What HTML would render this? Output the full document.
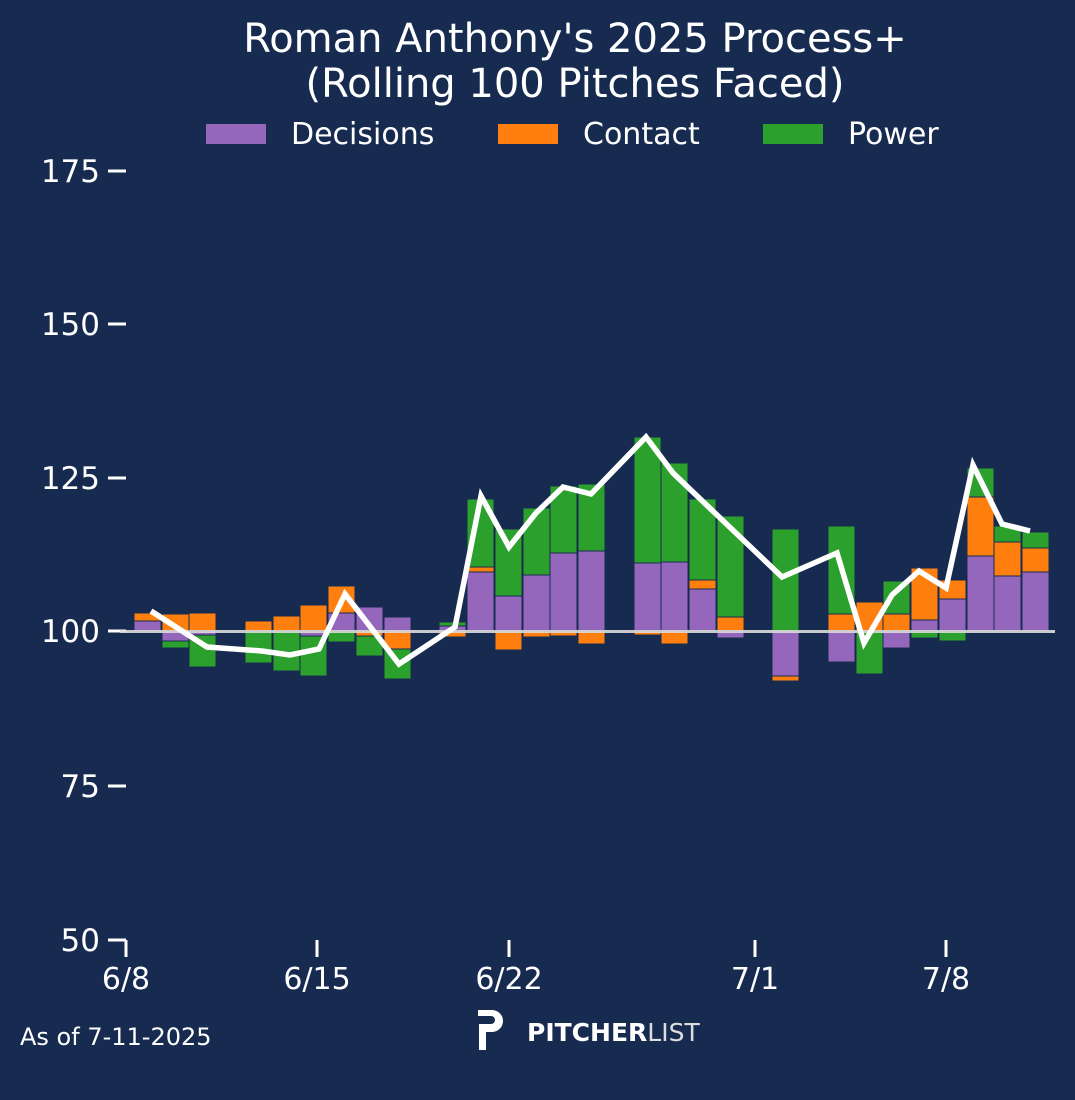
<!DOCTYPE html>
<html><head><meta charset="utf-8"><style>
html,body{margin:0;padding:0;background:#172b50;}
svg{display:block;}
text{font-family:"DejaVu Sans","Liberation Sans",sans-serif;fill:#fff;}
</style></head><body>
<svg width="1075" height="1100" viewBox="0 0 1075 1100" xmlns="http://www.w3.org/2000/svg">
<rect width="1075" height="1100" fill="#172b50"/>
<text x="575" y="52" font-size="40" text-anchor="middle">Roman Anthony's 2025 Process+</text>
<text x="575" y="97" font-size="40" text-anchor="middle">(Rolling 100 Pitches Faced)</text>
<rect x="206" y="124" width="60" height="20" fill="#9467bd"/>
<text x="291" y="144" font-size="30">Decisions</text>
<rect x="498" y="124" width="60" height="20" fill="#ff7f0e"/>
<text x="583" y="144" font-size="30">Contact</text>
<rect x="763" y="124" width="60" height="20" fill="#2ca02c"/>
<text x="848" y="144" font-size="30">Power</text>
<g stroke="#fff" stroke-width="3">
<line x1="108" y1="171" x2="126" y2="171"/>
<line x1="108" y1="324" x2="126" y2="324"/>
<line x1="108" y1="478" x2="126" y2="478"/>
<line x1="108" y1="631" x2="126" y2="631"/>
<line x1="108" y1="786" x2="126" y2="786"/>
<line x1="108" y1="940" x2="126" y2="940"/>
<line x1="126" y1="940" x2="126" y2="957"/>
<line x1="317" y1="940" x2="317" y2="957"/>
<line x1="509" y1="940" x2="509" y2="957"/>
<line x1="755" y1="940" x2="755" y2="957"/>
<line x1="946" y1="940" x2="946" y2="957"/>
</g>
<g font-size="31" text-anchor="end">
<text x="100" y="182">175</text>
<text x="100" y="335">150</text>
<text x="100" y="489">125</text>
<text x="100" y="642">100</text>
<text x="100" y="797">75</text>
<text x="100" y="951">50</text>
</g>
<g font-size="30" text-anchor="middle">
<text x="126" y="989">6/8</text>
<text x="317" y="989">6/15</text>
<text x="509" y="989">6/22</text>
<text x="755" y="989">7/1</text>
<text x="946" y="989">7/8</text>
</g>
<text x="20" y="1045" font-size="24">As of 7-11-2025</text>
<path d="M478 1010 h14 a11 11 0 0 1 0 22 h-6 v18 h-7 v-26 h12 a4 4 0 0 0 0 -8 h-13 z" fill="#fff"/>
<text x="527" y="1041" font-size="25" font-weight="bold">PITCHER<tspan font-weight="normal" fill="#ddd">LIST</tspan></text>
<g stroke="#172b50" stroke-width="1">
<rect x="134" y="613" width="27" height="8" fill="#ff7f0e"/><rect x="134" y="621" width="27" height="10" fill="#9467bd"/>
<rect x="162" y="614" width="27" height="17" fill="#ff7f0e"/><rect x="162" y="631" width="27" height="10" fill="#9467bd"/><rect x="162" y="641" width="27" height="7" fill="#2ca02c"/>
<rect x="189" y="613" width="27" height="18" fill="#ff7f0e"/><rect x="189" y="631" width="27" height="4" fill="#9467bd"/><rect x="189" y="635" width="27" height="32" fill="#2ca02c"/>
<rect x="245" y="621" width="27" height="10" fill="#ff7f0e"/><rect x="245" y="631" width="27" height="32" fill="#2ca02c"/>
<rect x="273" y="616" width="27" height="15" fill="#ff7f0e"/><rect x="273" y="631" width="27" height="40" fill="#2ca02c"/>
<rect x="300" y="605" width="27" height="26" fill="#ff7f0e"/><rect x="300" y="631" width="27" height="5" fill="#9467bd"/><rect x="300" y="636" width="27" height="40" fill="#2ca02c"/>
<rect x="328" y="586" width="27" height="27" fill="#ff7f0e"/><rect x="328" y="613" width="27" height="18" fill="#9467bd"/><rect x="328" y="631" width="27" height="11" fill="#2ca02c"/>
<rect x="356" y="607" width="27" height="24" fill="#9467bd"/><rect x="356" y="631" width="27" height="5" fill="#ff7f0e"/><rect x="356" y="636" width="27" height="20" fill="#2ca02c"/>
<rect x="384" y="617" width="27" height="14" fill="#9467bd"/><rect x="384" y="631" width="27" height="18" fill="#ff7f0e"/><rect x="384" y="649" width="27" height="30" fill="#2ca02c"/>
<rect x="439" y="622" width="27" height="4" fill="#2ca02c"/><rect x="439" y="626" width="27" height="5" fill="#9467bd"/><rect x="439" y="631" width="27" height="6" fill="#ff7f0e"/>
<rect x="467" y="499" width="27" height="68" fill="#2ca02c"/><rect x="467" y="567" width="27" height="5" fill="#ff7f0e"/><rect x="467" y="572" width="27" height="59" fill="#9467bd"/>
<rect x="495" y="529" width="27" height="67" fill="#2ca02c"/><rect x="495" y="596" width="27" height="35" fill="#9467bd"/><rect x="495" y="631" width="27" height="19" fill="#ff7f0e"/>
<rect x="523" y="508" width="27" height="67" fill="#2ca02c"/><rect x="523" y="575" width="27" height="56" fill="#9467bd"/><rect x="523" y="631" width="27" height="6" fill="#ff7f0e"/>
<rect x="550" y="486" width="27" height="67" fill="#2ca02c"/><rect x="550" y="553" width="27" height="78" fill="#9467bd"/><rect x="550" y="631" width="27" height="5" fill="#ff7f0e"/>
<rect x="578" y="484" width="27" height="67" fill="#2ca02c"/><rect x="578" y="551" width="27" height="80" fill="#9467bd"/><rect x="578" y="631" width="27" height="13" fill="#ff7f0e"/>
<rect x="634" y="437" width="27" height="126" fill="#2ca02c"/><rect x="634" y="563" width="27" height="68" fill="#9467bd"/><rect x="634" y="631" width="27" height="4" fill="#ff7f0e"/>
<rect x="661" y="463" width="27" height="99" fill="#2ca02c"/><rect x="661" y="562" width="27" height="69" fill="#9467bd"/><rect x="661" y="631" width="27" height="13" fill="#ff7f0e"/>
<rect x="689" y="499" width="27" height="81" fill="#2ca02c"/><rect x="689" y="580" width="27" height="9" fill="#ff7f0e"/><rect x="689" y="589" width="27" height="42" fill="#9467bd"/>
<rect x="717" y="516" width="27" height="101" fill="#2ca02c"/><rect x="717" y="617" width="27" height="14" fill="#ff7f0e"/><rect x="717" y="631" width="27" height="7" fill="#9467bd"/>
<rect x="772" y="529" width="27" height="102" fill="#2ca02c"/><rect x="772" y="631" width="27" height="45" fill="#9467bd"/><rect x="772" y="676" width="27" height="5" fill="#ff7f0e"/>
<rect x="828" y="526" width="27" height="88" fill="#2ca02c"/><rect x="828" y="614" width="27" height="17" fill="#ff7f0e"/><rect x="828" y="631" width="27" height="31" fill="#9467bd"/>
<rect x="856" y="602" width="27" height="29" fill="#ff7f0e"/><rect x="856" y="631" width="27" height="43" fill="#2ca02c"/>
<rect x="883" y="581" width="27" height="33" fill="#2ca02c"/><rect x="883" y="614" width="27" height="17" fill="#ff7f0e"/><rect x="883" y="631" width="27" height="17" fill="#9467bd"/>
<rect x="911" y="568" width="27" height="52" fill="#ff7f0e"/><rect x="911" y="620" width="27" height="11" fill="#9467bd"/><rect x="911" y="631" width="27" height="7" fill="#2ca02c"/>
<rect x="939" y="580" width="27" height="19" fill="#ff7f0e"/><rect x="939" y="599" width="27" height="32" fill="#9467bd"/><rect x="939" y="631" width="27" height="10" fill="#2ca02c"/>
<rect x="967" y="468" width="27" height="29" fill="#2ca02c"/><rect x="967" y="497" width="27" height="59" fill="#ff7f0e"/><rect x="967" y="556" width="27" height="75" fill="#9467bd"/>
<rect x="994" y="526" width="27" height="16" fill="#2ca02c"/><rect x="994" y="542" width="27" height="34" fill="#ff7f0e"/><rect x="994" y="576" width="27" height="55" fill="#9467bd"/>
<rect x="1022" y="532" width="27" height="16" fill="#2ca02c"/><rect x="1022" y="548" width="27" height="24" fill="#ff7f0e"/><rect x="1022" y="572" width="27" height="59" fill="#9467bd"/>
</g>
<line x1="120" y1="631.5" x2="1055" y2="631.5" stroke="#dcdcdc" stroke-width="3" opacity="0.9"/>
<polyline fill="none" stroke="#fff" stroke-width="5.5" stroke-linejoin="miter" points="151,611 207,647 262,651 290,655 319,649 345,594 399,664 455,627 481,496 509,547 536,513 563,487 591,494 646,437 673,473 782,577 837,553 864,643 892,595 919,571 946,588 973,465 1002,524 1030,531"/>
</svg>
</body></html>
